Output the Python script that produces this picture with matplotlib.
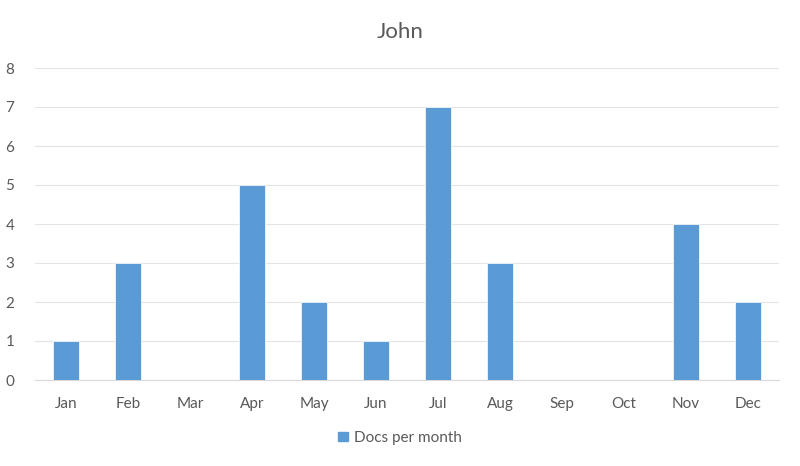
import matplotlib
matplotlib.use("Agg")
import matplotlib.pyplot as plt
from matplotlib.patches import Patch

months = ["Jan", "Feb", "Mar", "Apr", "May", "Jun", "Jul", "Aug", "Sep", "Oct", "Nov", "Dec"]
docs = [1, 3, 0, 5, 2, 1, 7, 3, 0, 0, 4, 2]
series_name = "Docs per month"
title = "John"

plt.rcParams['font.family'] = ['Lato', 'DejaVu Sans']
fig = plt.figure(figsize=(8, 4.66), dpi=100)
ax = fig.add_axes([35/800, 1-380/466, (779-35)/800, (380-68)/466])
x = list(range(len(months)))
ax.bar(x, docs, width=0.41, color="#5B9BD5", edgecolor="white", linewidth=0.5, zorder=3)
ax.set_xlim(-0.5, len(months)-0.5)
ax.set_ylim(0, 8)
ax.set_yticks(range(0, 9))
ax.set_xticks(x)
ax.set_xticklabels(months)
ax.grid(axis="y", color="#E4E4E4", linewidth=0.8, zorder=0)
for s in ["top", "right", "left"]:
    ax.spines[s].set_visible(False)
ax.spines["bottom"].set_color("#D9D9D9")
ax.tick_params(axis="both", length=0, colors="#595959", labelsize=11)
ax.tick_params(axis="x", pad=12)
ax.tick_params(axis="y", pad=15)
fig.text(0.5, 1-32/466, title, ha="center", va="center", fontsize=16, color="#595959")
fig.legend(handles=[Patch(color="#5B9BD5", label=series_name)], loc="center",
           bbox_to_anchor=(0.5, 1-438/466), frameon=False, fontsize=11,
           labelcolor="#595959", handlelength=0.6, handleheight=0.6, handletextpad=0.4)
fig.savefig("out.png", dpi=100)
